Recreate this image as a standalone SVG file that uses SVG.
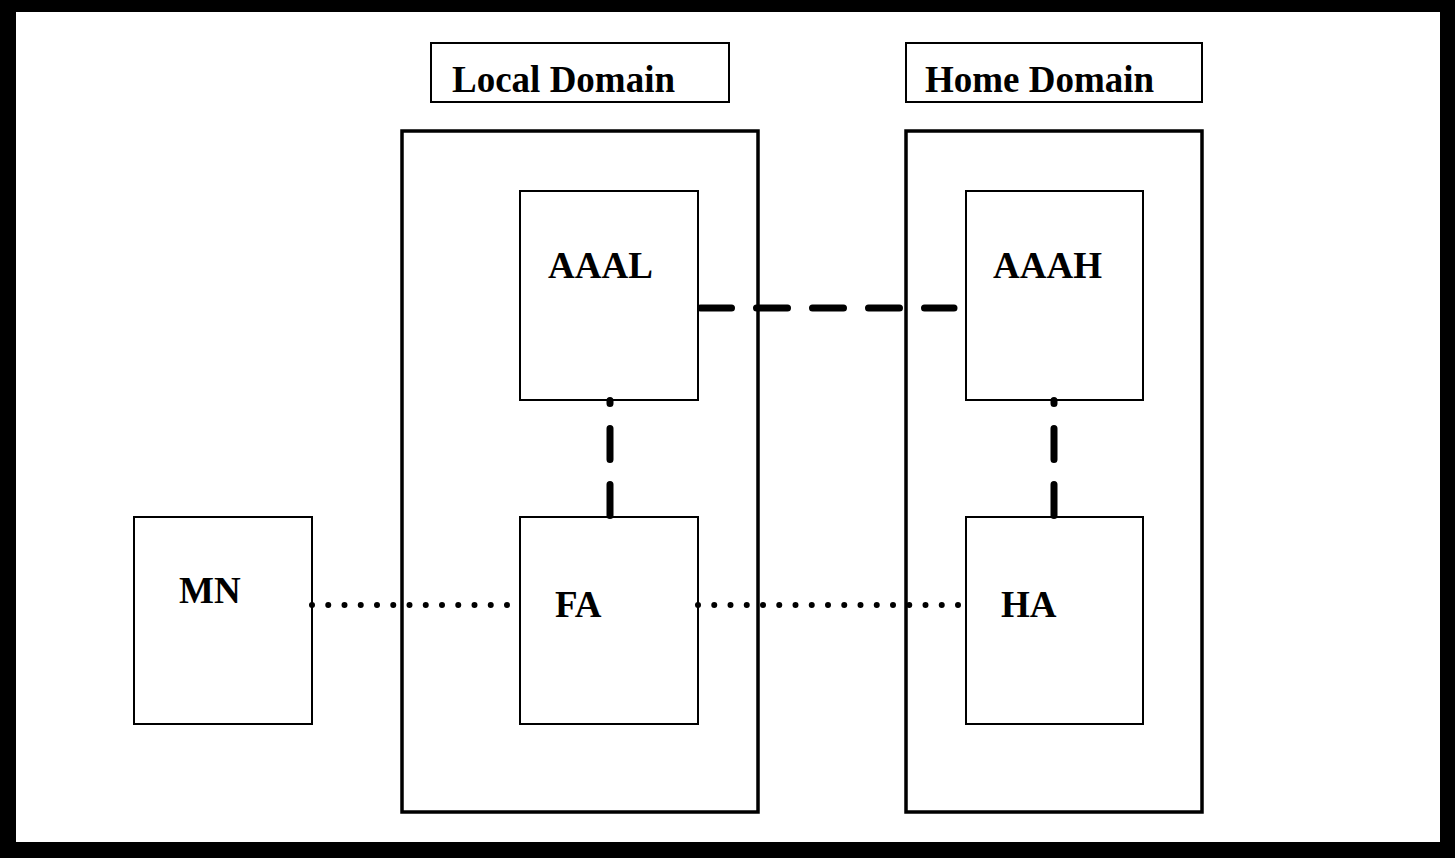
<svg xmlns="http://www.w3.org/2000/svg" width="1455" height="858" viewBox="0 0 1455 858">
<style>
.lbl{font-family:"Liberation Serif","Times New Roman",serif;font-weight:bold;font-size:37px;fill:#000}
.box{fill:#fff;stroke:#000;stroke-width:2}
.dom{fill:none;stroke:#000;stroke-width:3.5}
.dash{stroke:#000;stroke-width:7;stroke-linecap:round;stroke-dasharray:31 25;fill:none}
.vdash{stroke-dasharray:3 25 31 25 31 200}
.dot{stroke:#000;stroke-width:6;stroke-linecap:round;stroke-dasharray:0 16.25;fill:none}
</style>
<rect x="0" y="0" width="1455" height="858" fill="#000"/>
<rect x="16" y="12" width="1424" height="830" fill="#fff"/>
<g id="local-label"><rect class="box" x="431" y="43" width="298" height="59"/><text class="lbl" x="452" y="92">Local Domain</text></g>
<g id="home-label"><rect class="box" x="906" y="43" width="296" height="59"/><text class="lbl" x="925" y="92">Home Domain</text></g>
<g id="local-domain"><rect class="dom" x="402" y="131" width="356" height="681"/></g>
<g id="home-domain"><rect class="dom" x="906" y="131" width="296" height="681"/></g>
<g id="AAAL"><rect class="box" x="520" y="191" width="178" height="209"/><text class="lbl" x="548" y="278">AAAL</text></g>
<g id="AAAH"><rect class="box" x="966" y="191" width="177" height="209"/><text class="lbl" x="993" y="278">AAAH</text></g>
<g id="MN"><rect class="box" x="134" y="517" width="178" height="207"/><text class="lbl" x="179" y="603">MN</text></g>
<g id="FA"><rect class="box" x="520" y="517" width="178" height="207"/><text class="lbl" x="555" y="617">FA</text></g>
<g id="HA"><rect class="box" x="966" y="517" width="177" height="207"/><text class="lbl" x="1001" y="617">HA</text></g>
<g id="connectors">
<path class="dash" d="M700.5 308 H954"/>
<path class="dash vdash" d="M610 400.5 V515.5"/>
<path class="dash vdash" d="M1054 400.5 V515.5"/>
<path class="dot" d="M312 605 H508"/>
<path class="dot" d="M698 605 H960"/>
</g>
</svg>
